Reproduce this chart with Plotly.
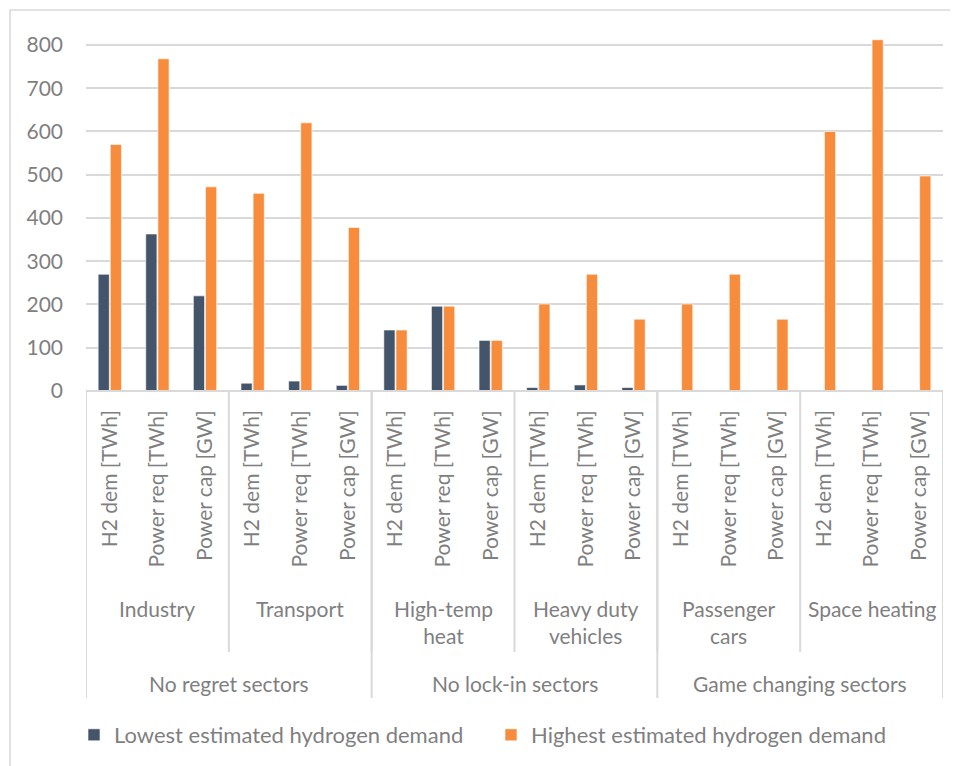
import plotly.graph_objects as go

groups = ["No regret sectors", "No lock-in sectors", "Game changing sectors"]
sectors = ["Industry", "Transport", "High-temp<br>heat", "Heavy duty<br>vehicles",
           "Passenger<br>cars", "Space heating"]
metrics = ["H2 dem [TWh]", "Power req [TWh]", "Power cap [GW]"]

lowest = [270, 363, 220,
          18, 23, 13,
          141, 196, 117,
          8, 14, 8,
          0, 0, 0,
          0, 0, 0]
highest = [570, 768, 472,
           457, 620, 378,
           141, 196, 117,
           201, 270, 166,
           201, 270, 166,
           600, 812, 497]

names = ["Lowest estimated hydrogen demand", "Highest estimated hydrogen demand"]
colors = ["#44546A", "#F68C3C"]

n = len(sectors) * len(metrics)
xs = list(range(n))
ticktext = [metrics[i % 3] for i in xs]

FONT = "Lato"
FS = 21
GRAY = "#7F7F7F"
LINE = "#D9D9D9"

fig = go.Figure()
for vals, nm, col in zip([lowest, highest], names, colors):
    fig.add_trace(go.Bar(x=xs, y=vals, name=nm, marker=dict(color=col, line=dict(color="white", width=0.6))))

# page body has an 8px margin; work in window pixels and compensate
OFF = 8
W, H = 958 - OFF, 766 - OFF
left_px, right_px, top_px, bottom_px = 86, 943, 32, 391   # plot area in window pixels
ml = left_px - OFF
mr = W - (right_px - OFF)
mt = top_px - OFF
mb = H - (bottom_px - OFF)
ph = bottom_px - top_px
pw = right_px - left_px

def py(pix):
    return (bottom_px - pix) / ph

def px(pix):
    return (pix - left_px) / pw

shapes = []
shapes.append(dict(type="line", xref="paper", yref="paper", x0=0, x1=1, y0=0, y1=0,
                   line=dict(color=LINE, width=2)))
for k in range(len(sectors) + 1):
    shapes.append(dict(type="line", xref="x", yref="paper", x0=3 * k - 0.5, x1=3 * k - 0.5,
                       y0=0, y1=py(652), line=dict(color=LINE, width=2)))
for k in range(len(groups) + 1):
    shapes.append(dict(type="line", xref="x", yref="paper", x0=6 * k - 0.5, x1=6 * k - 0.5,
                       y0=0, y1=py(698), line=dict(color=LINE, width=2)))
shapes.append(dict(type="rect", xref="paper", yref="paper", x0=px(10), x1=px(990),
                   y0=py(800), y1=py(10), line=dict(color=LINE, width=1.5)))

annotations = []
for k, s in enumerate(sectors):
    annotations.append(dict(x=3 * k + 1, y=py(594), xref="x", yref="paper", text=s,
                            showarrow=False, yanchor="top", xanchor="center",
                            font=dict(family=FONT, size=FS, color=GRAY)))
for k, g in enumerate(groups):
    annotations.append(dict(x=6 * k + 2.5, y=py(683), xref="x", yref="paper", text=g,
                            showarrow=False, yanchor="middle", xanchor="center",
                            font=dict(family=FONT, size=FS, color=GRAY)))

fig.update_layout(
    width=W, height=H,
    margin=dict(l=ml, r=mr, t=mt, b=mb, autoexpand=False),
    paper_bgcolor="white", plot_bgcolor="white",
    barmode="group", bargap=0.49, bargroupgap=0.08,
    font=dict(family=FONT, size=FS, color=GRAY),
    xaxis=dict(tickmode="array", tickvals=xs, ticktext=ticktext, tickangle=-90,
               range=[-0.5, n - 0.5], showgrid=False, zeroline=False, showline=False,
               ticks="", ticklabelstandoff=14, automargin=False,
               tickfont=dict(family=FONT, size=FS, color=GRAY)),
    yaxis=dict(range=[0, 830], tickvals=[0, 100, 200, 300, 400, 500, 600, 700, 800],
               showgrid=True, gridcolor=LINE, gridwidth=2, zeroline=False, showline=False,
               ticks="", ticklabelstandoff=22, automargin=False,
               tickfont=dict(family=FONT, size=FS, color=GRAY)),
    legend=dict(orientation="h", x=px(74), y=py(735), xanchor="left", yanchor="middle",
                font=dict(family=FONT, size=22, color=GRAY), traceorder="normal",
                entrywidth=372, entrywidthmode="pixels"),
    shapes=shapes,
    annotations=annotations,
)

fig.write_html("out.html")
